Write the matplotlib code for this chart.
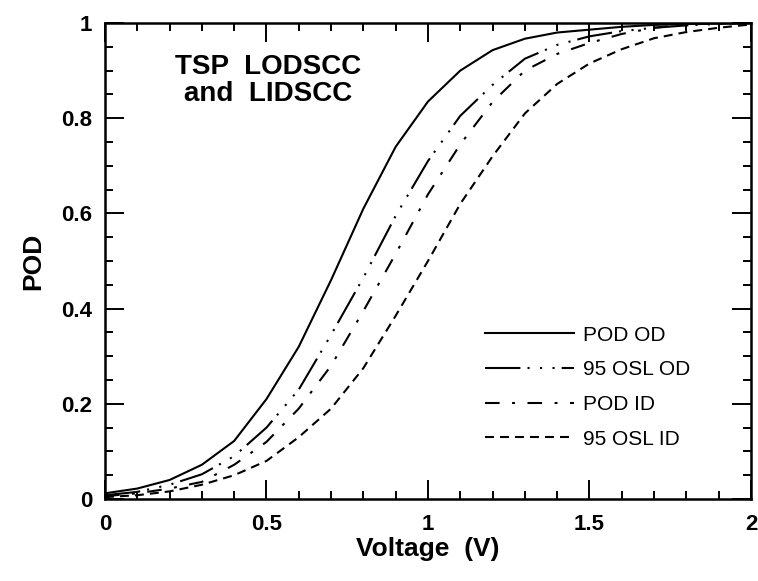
import numpy as np
import matplotlib.pyplot as plt

# voltage grid
voltage = [0.0, 0.1, 0.2, 0.3, 0.4, 0.5, 0.6, 0.7, 0.8, 0.9, 1.0,
           1.1, 1.2, 1.3, 1.4, 1.5, 1.6, 1.7, 1.8, 1.9, 2.0]

pod_od = [0.012, 0.022, 0.040, 0.072, 0.122, 0.21, 0.32, 0.46, 0.61, 0.74, 0.835,
          0.90, 0.943, 0.967, 0.980, 0.986, 0.992, 0.996, 0.998, 0.999, 1.0]
osl_od = [0.008, 0.015, 0.030, 0.052, 0.090, 0.15, 0.23, 0.345, 0.465, 0.595, 0.71,
          0.805, 0.87, 0.925, 0.954, 0.972, 0.983, 0.990, 0.995, 0.998, 1.0]
pod_id = [0.006, 0.012, 0.022, 0.036, 0.072, 0.12, 0.19, 0.28, 0.395, 0.515, 0.64,
          0.745, 0.834, 0.90, 0.935, 0.958, 0.977, 0.990, 0.997, 0.999, 1.0]
osl_id = [0.004, 0.008, 0.016, 0.030, 0.050, 0.08, 0.13, 0.19, 0.275, 0.385, 0.50,
          0.62, 0.72, 0.81, 0.872, 0.915, 0.945, 0.968, 0.981, 0.990, 0.997]

labels = ['POD OD', '95 OSL OD', 'POD ID', '95 OSL ID']
styles = ['-',
          (0, (17, 3.4, 1, 5, 1, 5, 1, 3.4)),
          (0, (7, 6, 1.4, 6)),
          (0, (4.3, 2.9))]

xticks = [0, 0.5, 1, 1.5, 2]
xticklabels = ['0', '0.5', '1', '1.5', '2']
yticks = [0, 0.2, 0.4, 0.6, 0.8, 1]
yticklabels = ['0', '0.2', '0.4', '0.6', '0.8', '1']

plt.rcParams['font.family'] = ['Liberation Sans', 'DejaVu Sans']

fig = plt.figure(figsize=(7.58, 5.81), dpi=100)
ax = fig.add_axes([0.1385, 0.1411, 0.8522, 0.8193])

for y, lab, ls in zip([pod_od, osl_od, pod_id, osl_id], labels, styles):
    ax.plot(voltage, y, color='black', lw=1.5, linestyle=ls, label=lab)

ax.set_xlim(0, 2)
ax.set_ylim(0, 1)
ax.set_xticks(xticks)
ax.set_xticklabels(xticklabels)
ax.set_xticks(np.arange(0, 2.01, 0.1), minor=True)
ax.set_yticks(yticks)
ax.set_yticklabels(yticklabels)
ax.set_yticks(np.arange(0, 1.001, 0.05), minor=True)

ax.tick_params(which='both', direction='in', top=True, right=True, width=1.4)
ax.tick_params(which='major', length=14, labelsize=16)
ax.tick_params(axis='x', which='major', pad=11)
ax.tick_params(axis='y', which='major', pad=9)
ax.tick_params(which='minor', length=6)
for lbl in ax.get_xticklabels() + ax.get_yticklabels():
    lbl.set_fontweight('bold')
for sp in ax.spines.values():
    sp.set_linewidth(1.8)

ax.set_xlabel('Voltage  (V)', fontsize=19, fontweight='bold', labelpad=1)
ax.set_ylabel('POD', fontsize=19, fontweight='bold', labelpad=12)

ax.text(0.505, 0.88, 'TSP  LODSCC\nand  LIDSCC', ha='center', va='center',
        fontsize=20, fontweight='bold', linespacing=1.05)

ax.legend(loc='upper left', bbox_to_anchor=(0.588, 0.364), frameon=False,
          fontsize=15, handlelength=4.3, handletextpad=0.4, labelspacing=0.75,
          borderpad=0, borderaxespad=0)

fig.savefig('out.png', dpi=100)
